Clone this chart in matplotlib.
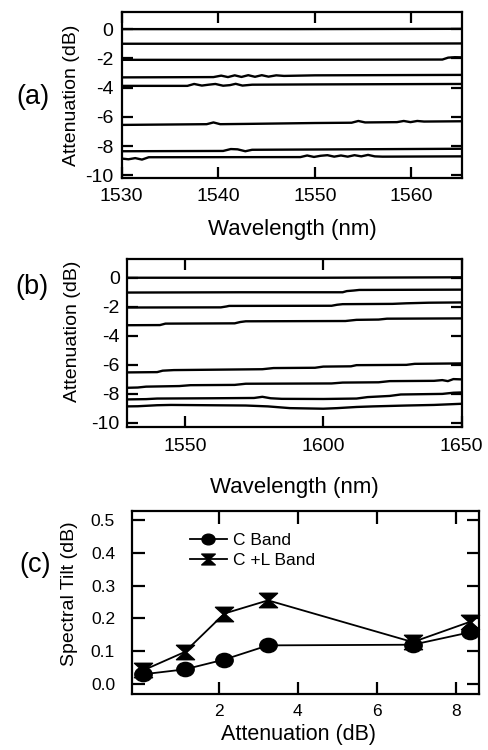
import matplotlib
matplotlib.use("Agg")
import matplotlib.pyplot as plt
from matplotlib.path import Path
from matplotlib.transforms import Affine2D

plt.rcParams['font.family'] = ['Liberation Sans', 'DejaVu Sans']
plt.rcParams['axes.unicode_minus'] = False

# ---------------- data: panel (a), C band ----------------
a1_x = [1530, 1548, 1565.2]
a1_y = [0.0, 0.0, 0.02]
a2_x = [1530, 1550, 1565.2]
a2_y = [-1.0, -1.0, -0.98]
a3_x = [1530, 1545, 1563.2, 1563.8, 1564.5, 1565.2]
a3_y = [-2.1, -2.1, -2.08, -1.95, -1.92, -1.93]
a4_x = [1530, 1539.5, 1540.3, 1541, 1541.7, 1542.4, 1543.1, 1543.8, 1544.5,
        1545.2, 1546, 1546.8, 1550, 1565.2]
a4_y = [-3.3, -3.28, -3.18, -3.28, -3.16, -3.27, -3.15, -3.26, -3.15,
        -3.25, -3.16, -3.2, -3.16, -3.13]
a5_x = [1530, 1536.8, 1537.5, 1538.3, 1539, 1539.7, 1540.5, 1541.2, 1541.8,
        1542.5, 1543.5, 1550, 1565.2]
a5_y = [-3.88, -3.88, -3.75, -3.86, -3.8, -3.75, -3.87, -3.83, -3.74,
        -3.86, -3.8, -3.78, -3.75]
a6_x = [1530, 1538.8, 1539.5, 1540.2, 1543, 1550, 1553.8, 1554.5, 1555.2,
        1558.5, 1559.2, 1559.9, 1560.6, 1561.3, 1565.2]
a6_y = [-6.55, -6.5, -6.38, -6.5, -6.48, -6.42, -6.4, -6.28, -6.38,
        -6.36, -6.28, -6.36, -6.28, -6.32, -6.3]
a7_x = [1530, 1540.5, 1541.3, 1542, 1542.8, 1543.5, 1550, 1565.2]
a7_y = [-8.35, -8.33, -8.2, -8.22, -8.35, -8.25, -8.23, -8.18]
a8_x = [1530, 1530.7, 1531.4, 1532.1, 1532.8, 1548.5, 1549.2, 1549.9, 1550.6,
        1551.3, 1552, 1552.7, 1553.4, 1554.1, 1554.8, 1555.5, 1556.2, 1557, 1565.2]
a8_y = [-8.85, -8.9, -8.82, -8.92, -8.76, -8.75, -8.64, -8.74, -8.66,
        -8.62, -8.72, -8.64, -8.72, -8.62, -8.7, -8.6, -8.7, -8.72, -8.7]

# ---------------- data: panel (b), C+L band ----------------
b1_x = [1529, 1600, 1650]
b1_y = [0.0, 0.0, 0.03]
b2_x = [1529, 1570, 1607, 1608.5, 1611, 1613, 1650]
b2_y = [-1.02, -1.0, -1.0, -0.92, -0.88, -0.84, -0.82]
b3_x = [1529, 1563, 1565, 1566, 1603, 1605, 1607, 1625, 1630, 1638, 1650]
b3_y = [-2.05, -2.04, -1.98, -1.94, -1.93, -1.86, -1.82, -1.8, -1.76, -1.72, -1.7]
b4_x = [1529, 1541, 1543, 1568, 1570, 1572, 1608, 1612, 1620, 1623, 1650]
b4_y = [-3.27, -3.26, -3.16, -3.14, -3.05, -3.0, -2.98, -2.9, -2.88, -2.82, -2.8]
b5_x = [1529, 1540, 1542, 1546, 1578, 1582, 1597, 1600, 1610, 1612, 1630, 1633, 1650]
b5_y = [-6.52, -6.5, -6.4, -6.36, -6.3, -6.22, -6.2, -6.12, -6.1, -6.02, -6.0, -5.93, -5.9]
b6_x = [1529, 1533, 1536, 1548, 1552, 1568, 1572, 1603, 1607, 1620, 1624, 1640,
        1643, 1645, 1647, 1650]
b6_y = [-7.58, -7.56, -7.5, -7.46, -7.4, -7.38, -7.3, -7.28, -7.22, -7.2, -7.12, -7.1,
        -7.05, -7.12, -6.98, -7.0]
b7_x = [1529, 1536, 1540, 1560, 1575, 1578, 1581, 1585, 1600, 1612, 1616, 1624,
        1628, 1643, 1647, 1650]
b7_y = [-8.38, -8.36, -8.32, -8.3, -8.28, -8.2, -8.3, -8.34, -8.35, -8.32, -8.22, -8.14,
        -8.04, -8.0, -7.92, -7.9]
b8_x = [1529, 1533, 1540, 1545, 1572, 1580, 1588, 1600, 1605, 1612, 1618, 1630,
        1640, 1645, 1650]
b8_y = [-8.86, -8.85, -8.78, -8.76, -8.8, -8.86, -8.98, -9.02, -8.98, -8.9, -8.86, -8.8,
        -8.76, -8.72, -8.68]

# ---------------- data: panel (c), spectral tilt ----------------
c_atten = [0.1, 1.15, 2.15, 3.25, 6.9, 8.35]
c_band_tilt = [0.03, 0.045, 0.075, 0.118, 0.12, 0.158]
cl_band_tilt = [0.042, 0.098, 0.215, 0.255, 0.128, 0.19]
c_labels = ["C Band", "C +L Band"]

a_xticks = [1530, 1540, 1550, 1560]
b_xticks = [1550, 1600, 1650]
ab_yticks = [0, -2, -4, -6, -8, -10]
c_xticks = [2, 4, 6, 8]
c_yticks = [0.0, 0.1, 0.2, 0.3, 0.4, 0.5]

# ---------------- figure ----------------
W, H = 489, 750
fig = plt.figure(figsize=(W / 100, H / 100), dpi=100)


def box(l, r, t, b):
    return [l / W, 1 - b / H, (r - l) / W, (b - t) / H]


def style(ax, size, length, pad_x, pad_y):
    for s in ax.spines.values():
        s.set_linewidth(1.6)
    ax.tick_params(direction='in', top=True, right=True, length=length, width=1.6,
                   labelsize=size, color='black')
    ax.tick_params(axis='x', pad=pad_x)
    ax.tick_params(axis='y', pad=pad_y)


lw = 1.7
# panel (a)
ax_a = fig.add_axes(box(121.7, 461.7, 12.3, 178.3))
for xs, ys in [(a1_x, a1_y), (a2_x, a2_y), (a3_x, a3_y), (a4_x, a4_y),
               (a5_x, a5_y), (a6_x, a6_y), (a7_x, a7_y), (a8_x, a8_y)]:
    ax_a.plot(xs, ys, color='black', lw=lw)
ax_a.set_xlim(1530, 1565.2)
ax_a.set_ylim(-10.2, 1.15)
ax_a.set_xticks(a_xticks)
ax_a.set_yticks(ab_yticks)
style(ax_a, 14, 8, 7, 6)
ax_a.set_xlabel("Wavelength (nm)", fontsize=16, va='center')
ax_a.xaxis.set_label_coords(0.502, -0.311)
ax_a.set_ylabel("Attenuation (dB)", fontsize=14, va='center')
ax_a.yaxis.set_label_coords(-0.147, 0.5)
fig.text(32.5 / W, 1 - 96.7 / H, "(a)", fontsize=19.5, ha='center', va='center')

# panel (b)
ax_b = fig.add_axes(box(126.7, 461.7, 259.3, 427.3))
for xs, ys in [(b1_x, b1_y), (b2_x, b2_y), (b3_x, b3_y), (b4_x, b4_y),
               (b5_x, b5_y), (b6_x, b6_y), (b7_x, b7_y), (b8_x, b8_y)]:
    ax_b.plot(xs, ys, color='black', lw=lw)
ax_b.set_xlim(1529, 1650)
ax_b.set_ylim(-10.3, 1.27)
ax_b.set_xticks(b_xticks)
ax_b.set_yticks(ab_yticks)
style(ax_b, 14, 8, 8, 5)
ax_b.set_xlabel("Wavelength (nm)", fontsize=16, va='center')
ax_b.xaxis.set_label_coords(0.502, -0.361)
ax_b.set_ylabel("Attenuation (dB)", fontsize=14, va='center')
ax_b.yaxis.set_label_coords(-0.163, 0.573)
fig.text(31.7 / W, 1 - 287.5 / H, "(b)", fontsize=19.5, ha='center', va='center')

# panel (c)
ellipse = Affine2D().scale(1.0, 0.82).transform_path(Path.unit_circle())
hourglass = Path([(-1, 0.8), (1, 0.8), (0.12, 0), (1, -0.8), (-1, -0.8), (-0.12, 0), (-1, 0.8)],
                 [Path.MOVETO, Path.LINETO, Path.LINETO, Path.LINETO, Path.LINETO,
                  Path.LINETO, Path.CLOSEPOLY])

ax_c = fig.add_axes(box(131.7, 479, 511, 694))
ax_c.plot(c_atten, c_band_tilt, color='black', lw=1.3, marker=ellipse, markersize=12.5,
          label=c_labels[0], clip_on=False)
ax_c.plot(c_atten, cl_band_tilt, color='black', lw=1.3, marker=hourglass, markersize=13,
          label=c_labels[1], clip_on=False)
ax_c.set_xlim(-0.19, 8.57)
ax_c.set_ylim(-0.03, 0.527)
ax_c.set_xticks(c_xticks)
ax_c.set_yticks(c_yticks)
ax_c.set_yticklabels([f"{v:.1f}" for v in c_yticks])
style(ax_c, 12.5, 9, 7, 12)
ax_c.set_xlabel("Attenuation (dB)", fontsize=15.5, va='center')
ax_c.xaxis.set_label_coords(0.48, -0.224)
ax_c.set_ylabel("Spectral Tilt (dB)", fontsize=14, va='center')
ax_c.yaxis.set_label_coords(-0.18, 0.546)
leg = ax_c.legend(loc='upper left', bbox_to_anchor=(0.168, 0.88), frameon=False,
                  fontsize=12.5, handlelength=2.1, handletextpad=0.4, labelspacing=0.3,
                  borderpad=0, borderaxespad=0, markerscale=0.75)
fig.text(35 / W, 1 - 565 / H, "(c)", fontsize=19.5, ha='center', va='center')

fig.savefig("out.png", dpi=100)
